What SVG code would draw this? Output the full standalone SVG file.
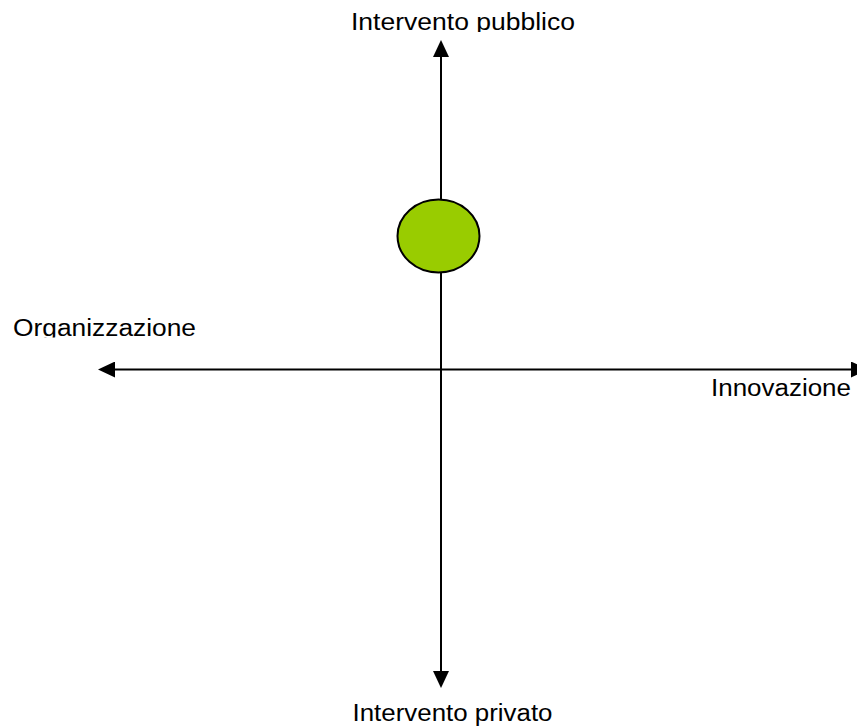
<svg xmlns="http://www.w3.org/2000/svg" width="857" height="726" viewBox="0 0 857 726">
<style>
.lbl{font-family:"Liberation Sans",Arial,sans-serif;font-size:23px;fill:#000}
.axis{stroke:#000;stroke-width:2;fill:none}
</style>
<defs>
<marker id="ah" viewBox="0 0 17 16" refX="0" refY="8" markerWidth="17" markerHeight="16" markerUnits="userSpaceOnUse" orient="auto-start-reverse">
<path d="M0,0 L17,8 L0,16 Z" fill="#000"/>
</marker>
<clipPath id="c1"><rect x="0" y="0" width="857" height="32"/></clipPath>
<clipPath id="c2"><rect x="0" y="300" width="857" height="37.5"/></clipPath>
</defs>
<g id="connectors">
<line class="axis" x1="441" y1="57" x2="441" y2="671" marker-start="url(#ah)" marker-end="url(#ah)"/>
<line class="axis" x1="115" y1="369.5" x2="851" y2="369.5" marker-start="url(#ah)" marker-end="url(#ah)"/>
</g>
<g id="node-circle">
<ellipse cx="438.5" cy="236" rx="41" ry="36.5" fill="#99CC00" stroke="#000" stroke-width="2"/>
</g>
<g id="label-top" clip-path="url(#c1)">
<text class="lbl" x="351" y="29.5" textLength="224" lengthAdjust="spacingAndGlyphs">Intervento pubblico</text>
</g>
<g id="label-left" clip-path="url(#c2)">
<text class="lbl" x="13" y="336" textLength="183" lengthAdjust="spacingAndGlyphs">Organizzazione</text>
</g>
<g id="label-right">
<text class="lbl" x="711" y="396" textLength="140" lengthAdjust="spacingAndGlyphs">Innovazione</text>
</g>
<g id="label-bottom">
<text class="lbl" x="352.5" y="720.5" textLength="200" lengthAdjust="spacingAndGlyphs">Intervento privato</text>
</g>
</svg>
